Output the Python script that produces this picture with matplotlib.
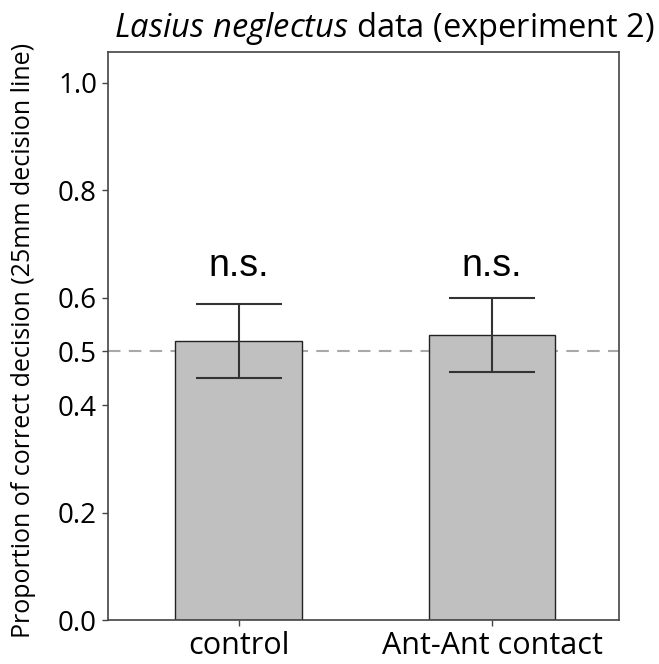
import matplotlib
matplotlib.use("Agg")
import matplotlib.pyplot as plt

# data
groups = ["control", "Ant-Ant contact"]
means = [0.520, 0.531]
errors = [0.069, 0.069]
labels = ["n.s.", "n.s."]
yticks = [0.0, 0.2, 0.4, 0.5, 0.6, 0.8, 1.0]

plt.rcParams['font.family'] = ['Open Sans', 'DejaVu Sans']
plt.rcParams['mathtext.fontset'] = 'custom'
plt.rcParams['mathtext.rm'] = 'Open Sans'
plt.rcParams['mathtext.it'] = 'Open Sans:italic'

fig = plt.figure(figsize=(6.59, 6.64), dpi=100)
ax = fig.add_axes([0.164, 0.066, 0.775, 0.855])

x = list(range(len(groups)))
ax.axhline(0.5, color='#a8a8a8', linestyle=(0, (6, 4)), linewidth=1.5, zorder=1)
ax.bar(x, means, width=0.5, color='#c0c0c0', edgecolor='#222222', linewidth=1.0, zorder=2)
ax.errorbar(x, means, yerr=errors, fmt='none', ecolor='#333333', elinewidth=1.5,
            capsize=31, capthick=1.5, zorder=3)

# n.s. labels above the error bars
for xi, lab in zip(x, labels):
    ax.text(xi, 0.64, lab, ha='center', va='baseline', fontsize=27,
            family=['Liberation Sans', 'DejaVu Sans'])

ax.set_xlim(-0.515, 1.5)
ax.set_ylim(0, 1.056)
ax.set_xticks(x)
ax.set_xticklabels(groups, fontsize=22)
ax.set_yticks(yticks)
ax.set_yticklabels([f"{t:.1f}" for t in yticks], fontsize=20)
ax.tick_params(axis='both', direction='out', length=4, width=1, color='#444444')
ax.tick_params(axis='y', pad=4)
ax.tick_params(axis='x', pad=4)
for s in ax.spines.values():
    s.set_color('#444444')
    s.set_linewidth(1.2)

fig.text(0.036, 0.488, "Proportion of correct decision (25mm decision line)",
         rotation=90, ha='center', va='center', fontsize=18)
fig.text(0.994, 1 - 37 / 664, r"$\it{Lasius\ neglectus}$ data (experiment 2)",
         ha='right', va='baseline', fontsize=23.5)

fig.savefig("out.png", dpi=100)
